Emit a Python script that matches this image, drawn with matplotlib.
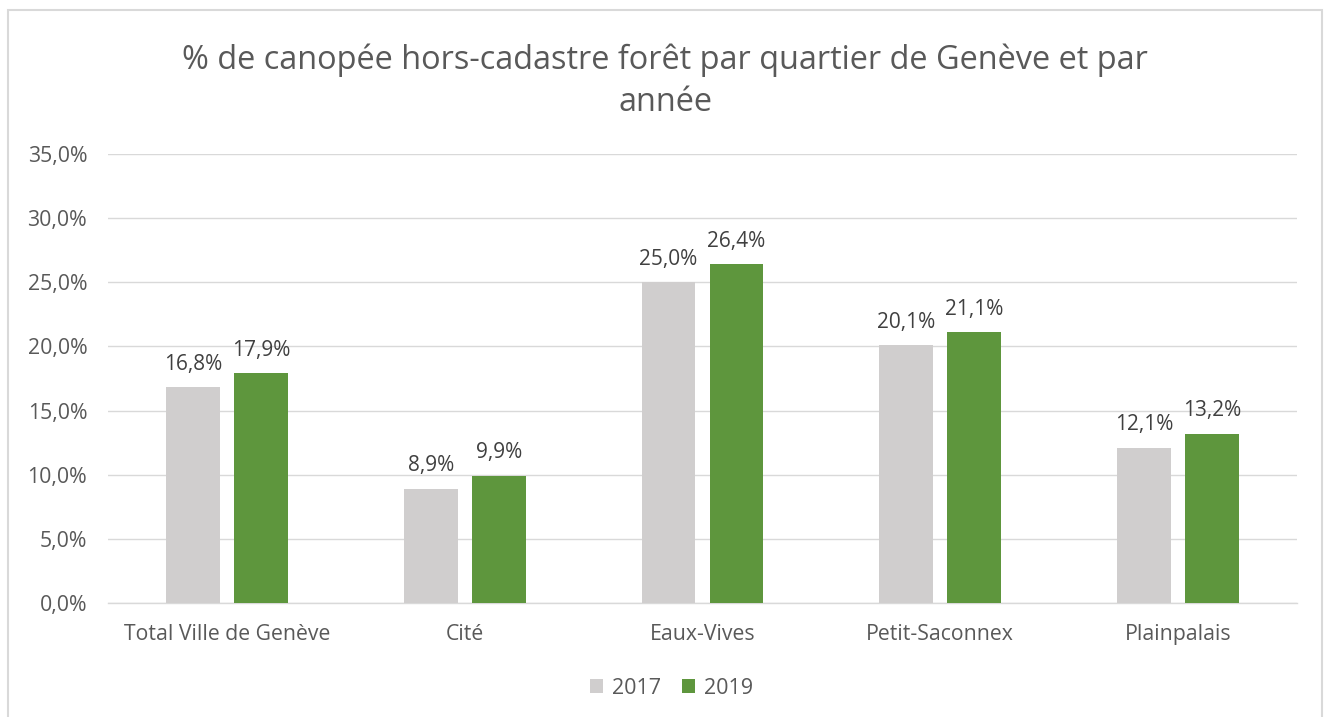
import matplotlib
matplotlib.use("Agg")
import matplotlib.pyplot as plt
import numpy as np
from matplotlib.patches import Rectangle

categories = ["Total Ville de Genève", "Cité", "Eaux-Vives", "Petit-Saconnex", "Plainpalais"]
years = ["2017", "2019"]
values_2017 = [16.8, 8.9, 25.0, 20.1, 12.1]
values_2019 = [17.9, 9.9, 26.4, 21.1, 13.2]
yticks = [0, 5, 10, 15, 20, 25, 30, 35]

plt.rcParams['font.family'] = ['Open Sans', 'DejaVu Sans']
txt = '#595959'
c17 = '#D0CECE'
c19 = '#5E963D'

fig = plt.figure(figsize=(13.3, 7.17), dpi=100)
fig.patches.append(Rectangle((8/1330, -0.01), 1314/1330, 1 - 10/717 + 0.01,
                             transform=fig.transFigure, fill=False,
                             edgecolor='#D9D9D9', linewidth=1.5))
ax = fig.add_axes([108/1330, 1 - 603/717, 1189/1330, (603 - 154)/717])

x = np.arange(len(categories))
w = 0.227
off = 0.143
b1 = ax.bar(x - off, values_2017, w, color=c17, label=years[0], zorder=3)
b2 = ax.bar(x + off, values_2019, w, color=c19, label=years[1], zorder=3)

for bars, vals in ((b1, values_2017), (b2, values_2019)):
    for r, v in zip(bars, vals):
        ax.annotate(f"{v:.1f}%".replace('.', ','), (r.get_x() + r.get_width() / 2, v),
                    xytext=(0, 9), textcoords='offset points',
                    ha='center', va='bottom', fontsize=15, color='#404040')

ax.set_xlim(-0.5, 4.5)
ax.set_ylim(0, 35)
ax.set_yticks(yticks)
ax.set_yticklabels([f"{t:.1f}%".replace('.', ',') for t in yticks])
ax.set_xticks(x)
ax.set_xticklabels(categories)
ax.tick_params(axis='both', length=0, labelsize=15.3, colors=txt)
ax.tick_params(axis='y', pad=15)
ax.tick_params(axis='x', pad=15)
ax.grid(axis='y', color='#D9D9D9', linewidth=1, zorder=0)
for s in ['top', 'right', 'left']:
    ax.spines[s].set_visible(False)
ax.spines['bottom'].set_color('#D9D9D9')
ax.spines['bottom'].set_linewidth(1)

fig.text(0.5, 1 - 81/717, "% de canopée hors-cadastre forêt par quartier de Genève et par\nannée",
         ha='center', va='center', fontsize=23.4, color=txt, linespacing=1.35)

leg = fig.legend(handles=[b1, b2], labels=years, loc='center', bbox_to_anchor=(0.505, 1 - 688/717),
                 ncol=2, frameon=False, fontsize=15.5, handlelength=0.6, handleheight=0.6,
                 handletextpad=0.4, columnspacing=1.0)
for t in leg.get_texts():
    t.set_color(txt)

fig.savefig("out.png", dpi=100)
